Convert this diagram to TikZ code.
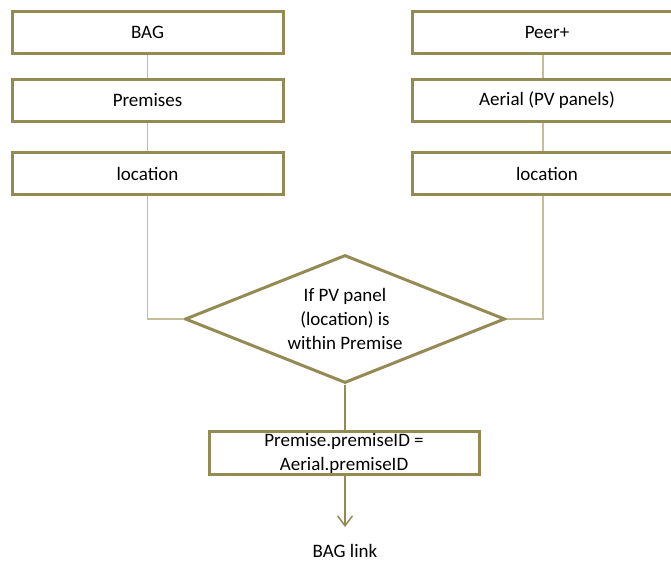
\documentclass[tikz,border=0pt]{standalone}
\usepackage{fontspec}
\setmainfont{Carlito}
\usetikzlibrary{shapes.geometric,arrows.meta}
\definecolor{olive}{HTML}{948A54}
\definecolor{tan}{HTML}{C4BD97}
\begin{document}
\begin{tikzpicture}[x=1pt,y=-1pt,
  font=\fontsize{19}{24}\selectfont,
  box/.style={draw=olive,line width=3pt,minimum width=271pt,minimum height=42pt,inner sep=0pt,fill=white},
  lnk/.style={draw=tan,line width=1.5pt},
  dlnk/.style={draw=olive,line width=2pt},
  dia/.style={draw=olive,line width=3pt,shape=diamond,minimum width=320pt,minimum height=128pt,inner sep=0pt}]
\useasboundingbox (0,0) rectangle (671,561);
\clip (0,0) rectangle (671,561);
\node[box] (bag) at (147.5,32.5) {BAG};
\node[box] (prem) at (147.5,100.5) {Premises};
\node[box] (locl) at (147.5,173.5) {location};
\node[box,minimum width=270pt] (peer) at (547,32.5) {Peer+};
\node[box,minimum width=270pt] (aer) at (547,100.5) {Aerial (PV panels)};
\node[box,minimum width=270pt] (locr) at (547,173.5) {location};
\node[dia] (d) at (345,319) {};
\node[align=center,inner sep=0pt] (dt) at (345,319) {If PV panel\\(location) is\\within Premise};
\node[box,minimum width=270pt,minimum height=43pt] (res) at (344,452.5) {};
\node[align=center,inner sep=0pt] (rt) at (344,453) {Premise.premiseID =\\Aerial.premiseID};
\node[inner sep=0pt] (link) at (345,551) {BAG link};
\coordinate (tip) at (345,527);
\begin{scope}[on background layer/.try]
\end{scope}
\draw[lnk] (bag.south) -- (prem.north);
\draw[lnk] (prem.south) -- (locl.north);
\draw[lnk] ([xshift=-4pt]peer.south) -- ([xshift=-4pt]aer.north);
\draw[lnk] ([xshift=-4pt]aer.south) -- ([xshift=-4pt]locr.north);
\draw[lnk] (locl.south) |- (d.west);
\draw[lnk] ([xshift=-4pt]locr.south) |- (d.east);
\draw[dlnk] (d.south) -- (res.north -| d.south);
\draw[olive,line width=1.5pt,-{Straight Barb[length=10pt,width=15pt]}] (res.south -| d.south) -- (tip);
\end{tikzpicture}
\end{document}
